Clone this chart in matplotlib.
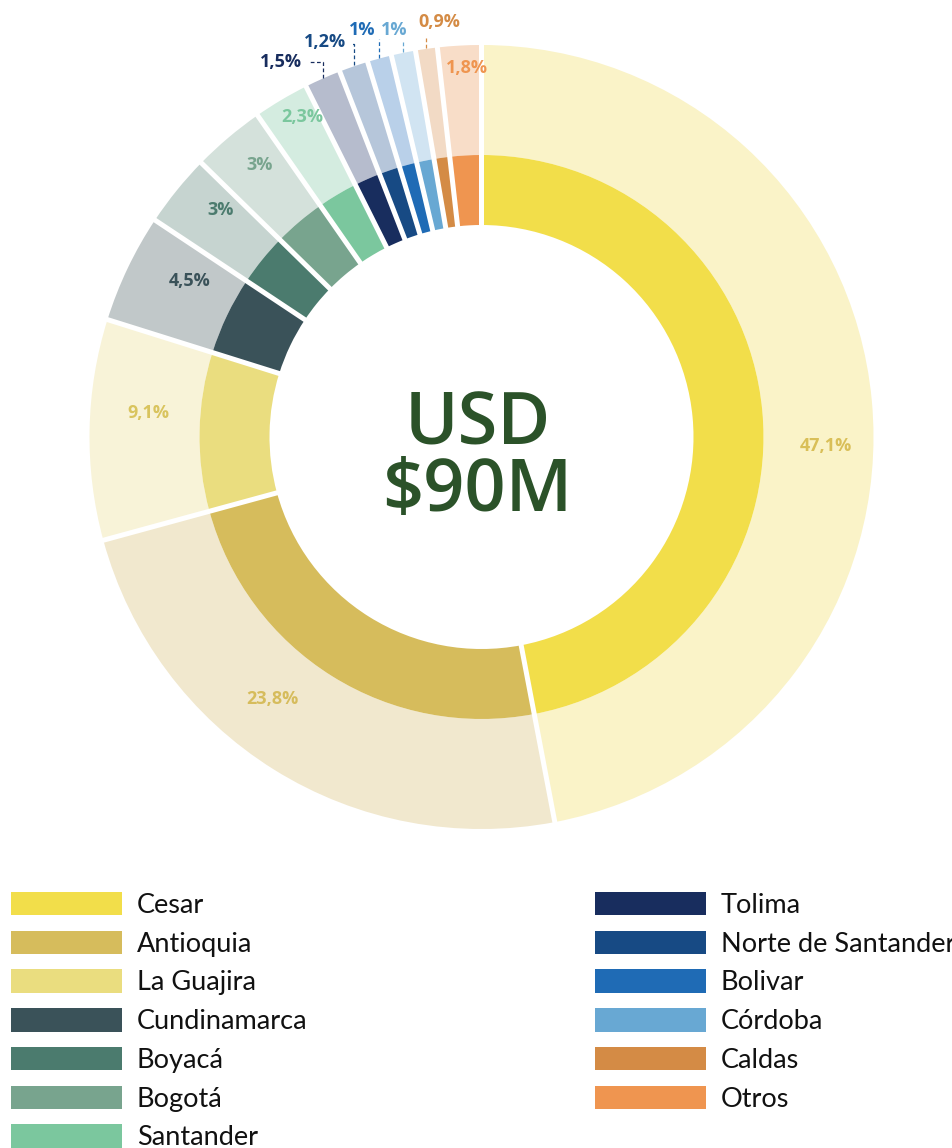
import numpy as np
import matplotlib
matplotlib.use("Agg")
import matplotlib.pyplot as plt
from matplotlib.patches import Patch

# ---------------- data ----------------
regions = ["Cesar", "Antioquia", "La Guajira", "Cundinamarca", "Boyacá", "Bogotá",
           "Santander", "Tolima", "Norte de Santander", "Bolivar", "Córdoba",
           "Caldas", "Otros"]
shares = [47.1, 23.8, 9.1, 4.5, 3, 3, 2.3, 1.5, 1.2, 1, 1, 0.9, 1.8]
inner_colors = ["#F2DE4A", "#D6BC5C", "#EADD7F", "#3A5259", "#4B7B6E", "#78A48E",
                "#7BC79E", "#182D5E", "#174A84", "#1F6BB5", "#68A8D3", "#D48B45",
                "#EF9550"]
outer_colors = ["#FAF3C8", "#F1E8CE", "#F8F3D8", "#C1C8C9", "#C6D4D0", "#D4E1DB",
                "#D4ECE0", "#B6BCCD", "#B6C6DA", "#B9D0E9", "#D1E4F2", "#F2DAC5",
                "#F8DDC8"]
label_colors = ["#D9BF58", "#D6BC5C", "#D9C45E", "#3A5259", "#4B7B6E", "#78A48E",
                "#7BC79E", "#182D5E", "#174A84", "#1F6BB5", "#68A8D3", "#D48B45",
                "#EF9550"]
center_text = "USD\n$90M"

# ---------------- layout ----------------
W, H = 953, 1148
DPI = 100
fig = plt.figure(figsize=(W / DPI, H / DPI), dpi=DPI)
ax = fig.add_axes([0, 0, 1, 1])

cx, cy = 481.5, H - 437
R_out, R_mid, R_in = 392, 282, 212

font = ["Open Sans", "DejaVu Sans"]
legfont = ["Lato", "DejaVu Sans"]

ax.pie(shares, radius=R_out, center=(cx, cy), startangle=90, counterclock=False,
       colors=outer_colors, wedgeprops=dict(width=R_out - R_mid, linewidth=0))
ax.pie(shares, radius=R_mid, center=(cx, cy), startangle=90, counterclock=False,
       colors=inner_colors, wedgeprops=dict(width=R_mid - R_in, linewidth=0))

ax.set_xlim(0, W)
ax.set_ylim(0, H)
ax.set_aspect("equal")
ax.axis("off")

total = float(np.sum(shares))
cum = np.concatenate([[0], np.cumsum(shares)]) / total
bounds = 90 - 360 * cum

# white separators
for th in bounds[:-1]:
    t = np.deg2rad(th)
    ax.plot([cx + (R_in - 3) * np.cos(t), cx + (R_out + 3) * np.cos(t)],
            [cy + (R_in - 3) * np.sin(t), cy + (R_out + 3) * np.sin(t)],
            color="white", lw=3.6, solid_capstyle="butt", zorder=3)

mids = (bounds[:-1] + bounds[1:]) / 2

def fmt(v):
    return f"{v:g}".replace(".", ",") + "%"

# inside labels: (angle nudge, radius)
inside = {0: (-6.9, 344), 1: (-6.7, 335), 2: (-3.0, 334), 3: (-2.6, 331),
          4: (-2.0, 346), 5: (-1.0, 351), 6: (-1.4, 367), 12: (-0.9, 369)}
for i, (dth, r) in inside.items():
    t = np.deg2rad(mids[i] + dth)
    ax.text(cx + r * np.cos(t), cy + r * np.sin(t), fmt(shares[i]),
            ha="center", va="center", fontsize=13, fontweight="bold",
            color=label_colors[i], family=font, zorder=4)

# outside labels with dashed leaders
# (leader top above edge, text dx, text dy, elbow x-end offset or None)
outside = {7: (17, -42, 17, -14), 8: (22, -29, 24, -3),
           9: (20, -17, 29, None), 10: (13, -9, 23, None), 11: (12, 13, 27, None)}
for i, (lt, tdx, tdy, elbow) in outside.items():
    t = np.deg2rad(mids[i])
    ex, ey = cx + R_out * np.cos(t), cy + R_out * np.sin(t)
    col = label_colors[i]
    if elbow is not None:
        ax.plot([ex, ex, ex + elbow], [ey + 1, ey + lt, ey + lt], color=col,
                lw=0.9, ls=(0, (3, 2)), zorder=4)
    else:
        ax.plot([ex, ex], [ey + 1, ey + lt], color=col, lw=0.9,
                ls=(0, (3, 2)), zorder=4)
    ax.text(ex + tdx, ey + tdy, fmt(shares[i]), ha="center", va="center",
            fontsize=13, fontweight="bold", color=col, family=font, zorder=4)

# centre text
ax.text(cx - 4, cy - 22, center_text, ha="center", va="center", fontsize=52,
        fontweight="semibold", color="#2B5229", family=font, linespacing=0.9,
        zorder=5)

# legend
handles = [Patch(facecolor=c, edgecolor="none", label=r)
           for c, r in zip(inner_colors, regions)]
leg = ax.legend(handles=handles, ncol=2, loc="upper left",
                bbox_to_anchor=(11 / W, 1 - 892 / H), frameon=False,
                prop=dict(family=legfont, size=19.5), handlelength=4.1,
                handleheight=0.95, handletextpad=0.55, labelspacing=0.47,
                columnspacing=10.6, borderpad=0, borderaxespad=0)
for txt in leg.get_texts():
    txt.set_color("#111111")

fig.savefig("out.png", dpi=DPI, facecolor="white")
